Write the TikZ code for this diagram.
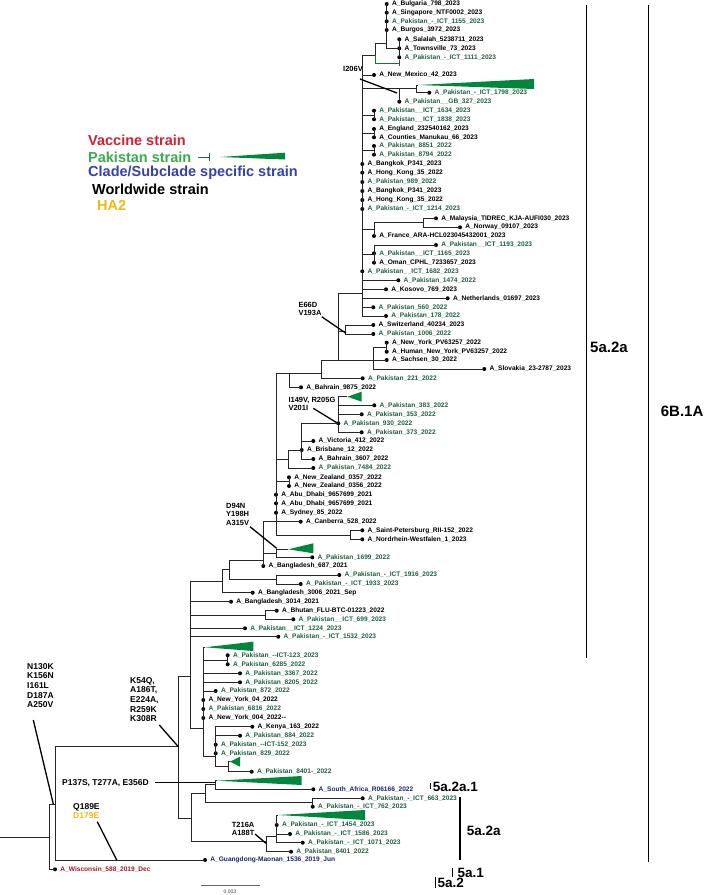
\documentclass[tikz,border=0pt]{standalone}
\usepackage{fontspec}
\setmainfont{Liberation Sans}
\definecolor{pkc}{RGB}{35,95,65}
\definecolor{trig}{RGB}{0,135,60}
\definecolor{gbarc}{RGB}{30,110,60}
\definecolor{vacc}{RGB}{205,35,50}
\definecolor{paks}{RGB}{60,170,80}
\definecolor{clad}{RGB}{55,65,170}
\definecolor{hag}{RGB}{240,185,20}
\definecolor{wisc}{RGB}{160,25,40}
\definecolor{navyc}{RGB}{30,35,110}
\newcommand\uu{\_\kern0.8pt\_}
\newcommand\mkleaf[5]{\node[dot] (#1) at (#2,#3) {}; \node[lab,text=#4] (#1t) at ([xshift=3pt]#1.east) {#5};}
\newcommand\mkedges[2]{\foreach \chd in {#2} {\draw[br] (#1.center) |- (\chd.center);}}
\newcommand\mktri[6]{\coordinate (#1) at (#2,#3); \fill[trig] (#1) -- (#4,#5) -- (#4,#6) -- cycle;}
\begin{document}
\begin{tikzpicture}[x=1pt,y=-1pt,
  br/.style={line width=0.75pt, black!85},
  dot/.style={circle, fill=black, inner sep=0pt, minimum size=4pt},
  lab/.style={anchor=west, inner sep=0pt, font=\fontsize{6.6}{7}\selectfont\bfseries},
  ann/.style={anchor=north west, align=left, inner sep=0pt, font=\fontsize{8.5}{9.7}\selectfont\bfseries},
  anns/.style={anchor=north west, align=left, inner sep=0pt, font=\fontsize{7.5}{8.5}\selectfont\bfseries},
  ptr/.style={line width=1.3pt, black},
  gbar/.style={line width=1pt, gbarc},
  cbar/.style={line width=1.3pt, black},
  cl/.style={anchor=west, inner sep=0pt, font=\fontsize{15}{16}\selectfont\bfseries},
  cls/.style={anchor=west, inner sep=0pt, font=\fontsize{13.5}{14}\selectfont\bfseries},
  leg/.style={anchor=west, inner sep=0pt, font=\fontsize{14.5}{15}\selectfont\bfseries}]
\useasboundingbox (0,0) rectangle (709,895);
\fill[white] (0,0) rectangle (709,895);

% ---------- leaves ----------
\mkleaf{L1}{386.7}{4}{black}{A\_Bulgaria\_798\_2023}
\mkleaf{L2}{386.7}{12.7}{black}{A\_Singapore\_NTF0002\_2023}
\mkleaf{L3}{386.7}{21.3}{pkc}{A\_Pakistan\_-\_ICT\_1155\_2023}
\mkleaf{L4}{386.7}{30}{black}{A\_Burgos\_3972\_2023}
\mkleaf{L5}{399.3}{39.3}{black}{A\_Salalah\_5238711\_2023}
\mkleaf{L6}{399.3}{48.3}{black}{A\_Townsville\_73\_2023}
\mkleaf{L7}{399.3}{57.3}{pkc}{A\_Pakistan\_-\_ICT\_1111\_2023}
\mkleaf{L8}{374}{75}{black}{A\_New\_Mexico\_42\_2023}
\mkleaf{L9}{429.3}{92.7}{pkc}{A\_Pakistan\_-\_ICT\_1798\_2023}
\mkleaf{L10}{399.3}{101.7}{pkc}{A\_Pakistan\uu GB\_327\_2023}
\mkleaf{L11}{374}{110.7}{pkc}{A\_Pakistan\uu ICT\_1634\_2023}
\mkleaf{L12}{374}{119.3}{pkc}{A\_Pakistan\uu ICT\_1838\_2023}
\mkleaf{L13}{374}{129}{black}{A\_England\_232540162\_2023}
\mkleaf{L14}{374}{137.3}{black}{A\_Counties\_Manukau\_66\_2023}
\mkleaf{L15}{374}{146}{pkc}{A\_Pakistan\_8851\_2022}
\mkleaf{L16}{374}{154.7}{pkc}{A\_Pakistan\_8794\_2022}
\mkleaf{L17}{362.3}{164}{black}{A\_Bangkok\_P341\_2023}
\mkleaf{L18}{362.3}{172.7}{black}{A\_Hong\_Kong\_35\_2022}
\mkleaf{L19}{362.3}{182}{pkc}{A\_Pakistan\_989\_2022}
\mkleaf{L20}{362.3}{191}{black}{A\_Bangkok\_P341\_2023}
\mkleaf{L21}{362.3}{200}{black}{A\_Hong\_Kong\_35\_2022}
\mkleaf{L22}{362.3}{209}{pkc}{A\_Pakistan\_-\_ICT\_1214\_2023}
\mkleaf{L23}{436}{218.3}{black}{A\_Malaysia\_TIDREC\_KJA-AUFI030\_2023}
\mkleaf{L24}{460}{227.3}{black}{A\_Norway\_09107\_2023}
\mkleaf{L25}{374}{236}{black}{A\_France\_ARA-HCL023045432001\_2023}
\mkleaf{L26}{436}{245}{pkc}{A\_Pakistan\uu ICT\_1193\_2023}
\mkleaf{L27}{374}{253.3}{pkc}{A\_Pakistan\uu ICT\_1165\_2023}
\mkleaf{L28}{374}{262.7}{black}{A\_Oman\_CPHL\_7233657\_2023}
\mkleaf{L29}{362.3}{271.3}{pkc}{A\_Pakistan\uu ICT\_1682\_2023}
\mkleaf{L30}{398.3}{280.3}{pkc}{A\_Pakistan\_1474\_2022}
\mkleaf{L31}{386}{289.3}{black}{A\_Kosovo\_769\_2023}
\mkleaf{L32}{447.7}{298.3}{black}{A\_Netherlands\_01697\_2023}
\mkleaf{L33}{373.3}{307.3}{pkc}{A\_Pakistan\_560\_2022}
\mkleaf{L34}{386}{316}{pkc}{A\_Pakistan\_178\_2022}
\mkleaf{L35}{373.3}{325}{black}{A\_Switzerland\_40234\_2023}
\mkleaf{L36}{373.3}{334}{pkc}{A\_Pakistan\_1006\_2022}
\mkleaf{L37}{386.7}{342.7}{black}{A\_New\_York\_PV63257\_2022}
\mkleaf{L38}{386.7}{351.7}{black}{A\_Human\_New\_York\_PV63257\_2022}
\mkleaf{L39}{386.7}{360}{black}{A\_Sachsen\_30\_2022}
\mkleaf{L40}{484.3}{369}{black}{A\_Slovakia\_23-2787\_2023}
\mkleaf{L41}{362.7}{378.3}{pkc}{A\_Pakistan\_221\_2022}
\mkleaf{L42}{301}{387.3}{black}{A\_Bahrain\_9875\_2022}
\mkleaf{L43}{374.3}{405.3}{pkc}{A\_Pakistan\_383\_2022}
\mkleaf{L44}{361.7}{414.3}{pkc}{A\_Pakistan\_353\_2022}
\mkleaf{L45}{338.3}{423.3}{pkc}{A\_Pakistan\_930\_2022}
\mkleaf{L46}{361.7}{432.3}{pkc}{A\_Pakistan\_373\_2022}
\mkleaf{L47}{313.3}{441}{black}{A\_Victoria\_412\_2022}
\mkleaf{L48}{301.7}{450}{black}{A\_Brisbane\_12\_2022}
\mkleaf{L49}{313.3}{459}{black}{A\_Bahrain\_3607\_2022}
\mkleaf{L50}{313.3}{468}{pkc}{A\_Pakistan\_7484\_2022}
\mkleaf{L51}{289}{477.3}{black}{A\_New\_Zealand\_0357\_2022}
\mkleaf{L52}{289}{486}{black}{A\_New\_Zealand\_0356\_2022}
\mkleaf{L53}{276}{494.7}{black}{A\_Abu\_Dhabi\_9657699\_2021}
\mkleaf{L54}{276}{503.3}{black}{A\_Abu\_Dhabi\_9657699\_2021}
\mkleaf{L55}{276}{512.7}{black}{A\_Sydney\_85\_2022}
\mkleaf{L56}{300.7}{521.7}{black}{A\_Canberra\_528\_2022}
\mkleaf{L57}{362.3}{530.3}{black}{A\_Saint-Petersburg\_RII-152\_2022}
\mkleaf{L58}{362.3}{539.3}{black}{A\_Nordrhein-Westfalen\_1\_2023}
\mkleaf{L59}{312.3}{557.3}{pkc}{A\_Pakistan\_1699\_2022}
\mkleaf{L60}{263.3}{566}{black}{A\_Bangladesh\_687\_2021}
\mkleaf{L61}{339.3}{575}{pkc}{A\_Pakistan\_-\_ICT\_1916\_2023}
\mkleaf{L62}{300.7}{584}{pkc}{A\_Pakistan\_-\_ICT\_1933\_2023}
\mkleaf{L63}{252.7}{592.7}{black}{A\_Bangladesh\_3006\_2021\_Sep}
\mkleaf{L64}{231}{601.7}{black}{A\_Bangladesh\_3014\_2021}
\mkleaf{L65}{276.7}{610.7}{black}{A\_Bhutan\_FLU-BTC-01223\_2022}
\mkleaf{L66}{293.3}{619.3}{pkc}{A\_Pakistan\uu ICT\_699\_2023}
\mkleaf{L67}{245}{628.3}{pkc}{A\_Pakistan\uu ICT\_1224\_2023}
\mkleaf{L68}{278.3}{636.7}{pkc}{A\_Pakistan\_-\_ICT\_1532\_2023}
\mkleaf{L69}{227.7}{655.3}{pkc}{A\_Pakistan\_-{}-ICT-123\_2023}
\mkleaf{L70}{227.7}{664.3}{pkc}{A\_Pakistan\_6285\_2022}
\mkleaf{L71}{240}{673.3}{pkc}{A\_Pakistan\_3367\_2022}
\mkleaf{L72}{240}{682.3}{pkc}{A\_Pakistan\_8205\_2022}
\mkleaf{L73}{215.7}{691}{pkc}{A\_Pakistan\_872\_2022}
\mkleaf{L74}{203.3}{700}{black}{A\_New\_York\_04\_2022}
\mkleaf{L75}{203.3}{709}{pkc}{A\_Pakistan\_6816\_2022}
\mkleaf{L76}{203.3}{718}{black}{A\_New\_York\_004\_2022-{}-}
\mkleaf{L77}{252.3}{726.7}{black}{A\_Kenya\_163\_2022}
\mkleaf{L78}{240}{735.7}{pkc}{A\_Pakistan\_884\_2022}
\mkleaf{L79}{215.7}{744.7}{pkc}{A\_Pakistan\_-{}-ICT-152\_2023}
\mkleaf{L80}{215.7}{753.3}{pkc}{A\_Pakistan\_829\_2022}
\mkleaf{L81}{251.7}{771.7}{pkc}{A\_Pakistan\_8401-\_2022}
\mkleaf{L82}{313.3}{789.3}{navyc}{A\_South\_Africa\_R06166\_2022}
\mkleaf{L83}{362.7}{798.3}{pkc}{A\_Pakistan\_-\_ICT\_663\_2023}
\mkleaf{L84}{312.7}{806.7}{pkc}{A\_Pakistan\_-\_ICT\_762\_2023}
\mkleaf{L85}{276.7}{825}{pkc}{A\_Pakistan\_-\_ICT\_1454\_2023}
\mkleaf{L86}{290}{834}{pkc}{A\_Pakistan\_-\_ICT\_1586\_2023}
\mkleaf{L87}{302.7}{842.7}{pkc}{A\_Pakistan\_-\_ICT\_1071\_2023}
\mkleaf{L88}{291}{851.7}{pkc}{A\_Pakistan\_8401\_2022}
\mkleaf{L89}{205}{860}{navyc}{A\_Guangdong-Maonan\_1536\_2019\_Jun}
\mkleaf{L90}{55}{869.3}{wisc}{A\_Wisconsin\_588\_2019\_Dec}

% ---------- internal nodes and collapsed clades ----------
\coordinate (TA) at (386.7,43.3);
\coordinate (TB) at (399.3,48.3);
\coordinate (TC) at (375,55);
\coordinate (bar) at (399.3,63.3);
\coordinate (IC) at (399.3,88.3);
\coordinate (ID) at (416.7,88.3);
\mktri{tID}{418}{85}{534}{79}{89}
\coordinate (P1) at (374,115);
\coordinate (P2) at (374,133.2);
\coordinate (P3) at (374,150.3);
\coordinate (MN) at (423.3,222.7);
\coordinate (MF) at (374,229.3);
\coordinate (OM) at (374,254);
\coordinate (BIG) at (362.3,293.3);
\coordinate (SW) at (345,331.7);
\coordinate (NYp) at (386.7,347.2);
\coordinate (NYc) at (373.3,360);
\coordinate (C) at (338.3,360);
\coordinate (B) at (321.7,373.3);
\coordinate (H) at (289.3,373.3);
\mktri{tG}{347.3}{396.7}{361.7}{391.7}{401.7}
\coordinate (G) at (338.3,423.3);
\coordinate (F) at (301.7,450);
\coordinate (E) at (288.3,459);
\coordinate (NZ) at (289,481.7);
\coordinate (SP) at (350,535);
\coordinate (K) at (276,521.7);
\mktri{tI}{288.3}{549.3}{313.3}{543.3}{553.3}
\coordinate (I) at (276.7,553);
\coordinate (J) at (263.3,560);
\coordinate (LL) at (276,579.5);
\coordinate (M) at (229.5,569.8);
\coordinate (M2) at (222,581);
\coordinate (N) at (265,615);
\mktri{tQ}{205}{647.3}{253.3}{641.7}{651}
\coordinate (Q1) at (227.7,660);
\mktri{tBB}{230}{761.7}{240}{756.7}{766.7}
\coordinate (BB) at (228.3,766.7);
\coordinate (CC) at (215.7,756.7);
\coordinate (Q) at (203.3,728.3);
\coordinate (P) at (190.7,676.7);
\mktri{tU}{216.7}{780.7}{301.7}{776}{785}
\coordinate (U) at (215,784);
\coordinate (Z) at (312.7,802.3);
\coordinate (X) at (205,793);
\mktri{tAA}{278}{815}{365}{810}{820}
\coordinate (AA) at (276.7,836.7);
\coordinate (Y) at (266,841.7);
\coordinate (V) at (191.7,818.3);
\coordinate (R) at (178.3,746.7);
\coordinate (S) at (55,804);
\coordinate (T) at (49.3,837.3);
\coordinate (root) at (0,837.3);

% ---------- branches ----------
\mkedges{TA}{L1,L2,L3,L4,TB}
\mkedges{TB}{L5,L6,L7}
\mkedges{TC}{TA}
\draw[gbar] (TC.center) |- (bar.center);
\draw[gbar] ([yshift=3pt]bar.center) -- ([yshift=-3pt]bar.center);
\mkedges{ID}{tID,L9}
\mkedges{IC}{ID,L10}
\mkedges{P1}{L11,L12}
\mkedges{P2}{L13,L14}
\mkedges{P3}{L15,L16}
\mkedges{MN}{L23,L24}
\mkedges{MF}{MN,L25}
\mkedges{OM}{L26,L27,L28}
\mkedges{BIG}{TC,L8,IC,P1,P2,P3,L17,L18,L19,L20,L21,L22,MF,OM,L29,L30,L31,L32,L33,L34}
\mkedges{SW}{L35,L36}
\mkedges{NYp}{L37,L38}
\mkedges{NYc}{NYp,L39,L40}
\mkedges{C}{BIG,SW,NYc}
\mkedges{B}{C,L41}
\mkedges{H}{B,L42}
\mkedges{G}{tG,L43,L44,L45,L46}
\mkedges{F}{G,L47,L48,L49}
\mkedges{E}{F,L50}
\mkedges{NZ}{L51,L52}
\mkedges{SP}{L57,L58}
\mkedges{K}{H,E,NZ,L53,L54,L55,L56,SP}
\mkedges{I}{tI,L59}
\mkedges{J}{K,I,L60}
\mkedges{LL}{L61,L62}
\mkedges{M}{J,LL}
\mkedges{M2}{M,L63}
\mkedges{N}{L65,L66}
\mkedges{Q1}{L69,L70}
\mkedges{BB}{tBB,L81}
\mkedges{CC}{L77,L78,L79,L80,BB}
\mkedges{Q}{tQ,Q1,L71,L72,L73,L74,L75,L76,CC}
\mkedges{P}{M2,L64,N,L67,L68,Q}
\mkedges{U}{tU,L82}
\mkedges{Z}{L83,L84}
\mkedges{X}{U,Z}
\mkedges{AA}{tAA,L85,L86,L87}
\mkedges{Y}{AA,L88}
\mkedges{V}{X,Y}
\mkedges{R}{P,V}
\mkedges{S}{R,L89}
\mkedges{T}{S,L90}
\draw[br] (root) -- (T.center);

% ---------- mutation annotations ----------
\node[anns] (nI206) at (343,66) {I206V};
\coordinate (aI206a) at (360,79); \coordinate (aI206b) at (397,93);
\draw[ptr] (aI206a) -- (aI206b);
\node[anns] (nE66) at (298.3,301.7) {E66D\\V193A};
\coordinate (aE66a) at (321.7,316.7); \coordinate (aE66b) at (346,333.3);
\draw[ptr] (aE66a) -- (aE66b);
\node[anns] (nI149) at (288.3,396.7) {I149V, R205G\\V201I};
\coordinate (aI149a) at (313.3,408.3); \coordinate (aI149b) at (336.7,422.7);
\draw[ptr] (aI149a) -- (aI149b);
\node[anns] (nD94) at (226,503) {D94N\\Y198H\\A315V};
\coordinate (aD94a) at (250,526.7); \coordinate (aD94b) at (276.7,548.3);
\draw[ptr] (aD94a) -- (aD94b);
\node[ann] (nK54) at (130,677) {K54Q,\\A186T,\\E224A,\\R259K\\K308R};
\coordinate (aK54a) at (159.3,725); \coordinate (aK54b) at (178.3,746.7);
\draw[ptr] (aK54a) -- (aK54b);
\node[ann] (nN130) at (27,663) {N130K\\K156N\\I161L\\D187A\\A250V};
\coordinate (aN130a) at (33.3,720); \coordinate (aN130b) at (53.3,804);
\draw[ptr] (aN130a) -- (aN130b);
\node[ann] (nP137) at (62,779) {P137S, T277A, E356D};
\coordinate (aP137a) at (155,782.3); \coordinate (aP137b) at (215,782.3);
\draw[ptr] (aP137a) -- (aP137b);
\node[ann] (nQ189) at (73,803) {Q189E\\\textcolor{hag}{D179E}};
\coordinate (aQ189a) at (97.3,821.7); \coordinate (aQ189b) at (116.7,860);
\draw[ptr] (aQ189a) -- (aQ189b);
\node[anns] (nT216) at (231.7,821.7) {T216A\\A188T};
\coordinate (aT216a) at (255,834); \coordinate (aT216b) at (266,843.3);
\draw[ptr] (aT216a) -- (aT216b);

% ---------- legend ----------
\node[leg,text=vacc] (lg1) at (88,140) {Vaccine strain};
\node[leg,text=paks] (lg2) at (88,157) {Pakistan strain};
\draw[gbar] (198,157) -- (209,157);
\draw[gbarc, line width=1.8pt] (209.5,153.3) -- (209.5,160.7);
\fill[trig] (220,157) -- (285,152.7) -- (285,159.5) -- cycle;
\node[leg,text=clad] (lg3) at (88,173) {Clade/Subclade specific strain};
\node[leg] (lg4) at (92,189) {Worldwide strain};
\node[leg,text=hag] (lg5) at (97,205) {HA2};

% ---------- clade bars ----------
\draw[cbar] (586.7,5) -- (586.7,658);
\node[cl] (c1) at (590,347) {5a.2a};
\draw[cbar] (648.3,5) -- (648.3,862);
\node[cl] (c2) at (660.7,411.7) {6B.1A};
\draw[line width=0.9pt] (430.7,783) -- (430.7,789);
\node[cls] (c3) at (432.7,786.5) {5a.2a.1};
\draw[cbar] (460,796.7) -- (460,860);
\node[cls] (c4) at (466.7,831) {5a.2a};
\draw[line width=0.9pt] (452.3,868) -- (452.3,876.7);
\node[cls] (c5) at (457.3,872.5) {5a.1};
\draw[line width=0.9pt] (435,876.7) -- (435,888);
\node[cls] (c6) at (437.3,883) {5a.2};

% ---------- scale bar ----------
\draw[line width=0.6pt, black!60] (200.7,885) -- (260,885);
\node[inner sep=0pt, font=\fontsize{5}{5}\selectfont, text=black!75] (sc) at (230,891.5) {0.003};
\end{tikzpicture}
\end{document}
